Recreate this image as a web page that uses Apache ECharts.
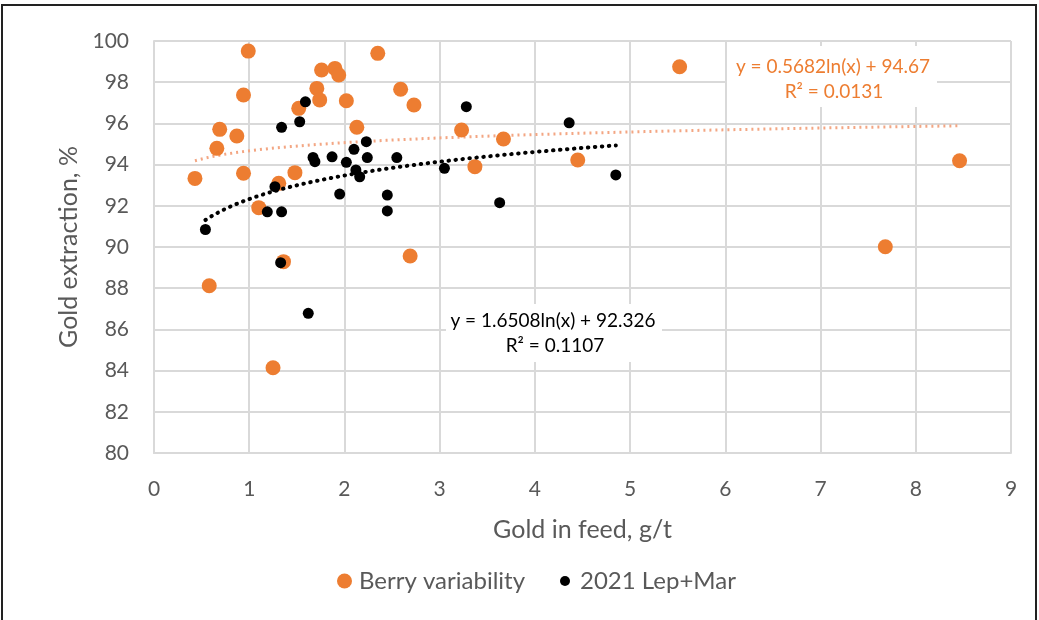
<!DOCTYPE html>
<html>
<head>
<meta charset="utf-8">
<title>Gold extraction vs gold in feed</title>
<script src="https://cdn.jsdelivr.net/npm/echarts@6/dist/echarts.min.js"></script>
<style>
	html, body { margin: 0; padding: 0; background: #fff; }
	#frame { position: absolute; left: 1px; top: 4px; width: 1036px; height: 640px; border: 2px solid #222; box-sizing: border-box; }
	#main { position: absolute; left: 0; top: 0; width: 1039px; height: 620px; }
</style>
</head>
<body>
<div id="frame"></div>
<div id="main"></div>
<script>
	// Berry variability 点 (g/t, %)
	const berryX = [0.43, 0.58, 0.66, 0.69, 0.87, 0.94, 0.94, 0.99, 1.10, 1.25, 1.31, 1.36, 1.48, 1.52, 1.71, 1.74,
		1.76, 1.90, 1.94, 2.02, 2.13, 2.35, 2.59, 2.69, 2.73, 3.23, 3.37, 3.67, 4.45, 5.52, 7.68, 8.46];
	const berryY = [93.33, 88.12, 94.79, 95.71, 95.39, 97.38, 93.58, 99.51, 91.91, 84.14, 93.09, 89.29, 93.61, 96.73, 97.70, 97.14,
		98.59, 98.67, 98.35, 97.10, 95.81, 99.40, 97.66, 89.56, 96.89, 95.68, 93.90, 95.24, 94.22, 98.75, 90.01, 94.19];

	// 2021 Lep+Mar 点
	const lepX = [0.54, 1.19, 1.27, 1.33, 1.34, 1.34, 1.53, 1.59, 1.62, 1.67, 1.69, 1.87, 1.95, 2.02, 2.10, 2.12,
		2.16, 2.23, 2.24, 2.45, 2.45, 2.55, 3.05, 3.28, 3.63, 4.36, 4.85];
	const lepY = [90.85, 91.71, 92.93, 89.24, 95.81, 91.71, 96.08, 97.05, 86.78, 94.35, 94.14, 94.38, 92.57, 94.11, 94.74, 93.74,
		93.41, 95.11, 94.34, 92.52, 91.75, 94.34, 93.82, 96.81, 92.15, 96.03, 93.50];

	// 图上标注的对数趋势线系数 y = a*ln(x) + b
	const berryTrend = { a: 0.5682, b: 94.67 };
	const lepTrend = { a: 1.6508, b: 92.326 };

	const xTicks = [0, 1, 2, 3, 4, 5, 6, 7, 8, 9];
	const yTicks = [80, 82, 84, 86, 88, 90, 92, 94, 96, 98, 100];

	const FONT = 'Lato';
	const GREY = '#595959';
	const ORANGE = '#ED7D31';
	const GRID = '#d9d9d9';

	/**
	 * 把两组数组合成 [x, y] 点
	 */
	function pairs(xs, ys) {
		return xs.map((x, i) => [x, ys[i]]);
	}

	/**
	 * 按趋势线方程在数据 x 范围内取点
	 */
	function trendPoints(t, xs) {
		let x0 = Math.min(...xs);
		let x1 = Math.max(...xs);
		let pts = [];
		let n = 80;
		for (let i = 0; i <= n; i++) {
			let x = x0 + (x1 - x0) * i / n;
			pts.push([x, t.a * Math.log(x) + t.b]);
		}
		return pts;
	}

	/**
	 * 趋势线公式文字
	 */
	function label(text, x, y, color) {
		return {
			type: 'text', x: x, y: y, z: 6,
			style: { text: text, fill: color, font: '19px ' + FONT, align: 'center', verticalAlign: 'middle' }
		};
	}

	let chart = echarts.init(document.getElementById('main'));

	chart.setOption({
		animation: false,
		backgroundColor: 'transparent',
		grid: { left: 154, top: 41, width: 857, height: 412 },
		xAxis: {
			type: 'value',
			min: xTicks[0],
			max: xTicks[xTicks.length - 1],
			interval: 1,
			name: 'Gold in feed, g/t',
			nameLocation: 'middle',
			nameGap: 64,
			nameTextStyle: { fontFamily: FONT, fontSize: 25, color: GREY },
			axisLine: { show: true, lineStyle: { color: GRID, width: 2 } },
			axisTick: { show: false },
			axisLabel: { margin: 26, fontFamily: FONT, fontSize: 21, color: GREY },
			splitLine: { show: true, lineStyle: { color: GRID, width: 2 } }
		},
		yAxis: {
			type: 'value',
			min: yTicks[0],
			max: yTicks[yTicks.length - 1],
			interval: 2,
			name: 'Gold extraction, %',
			nameLocation: 'middle',
			nameGap: 71,
			nameTextStyle: { fontFamily: FONT, fontSize: 25, color: GREY },
			axisLine: { show: true, lineStyle: { color: GRID, width: 2 } },
			axisTick: { show: false },
			axisLabel: { margin: 25, fontFamily: FONT, fontSize: 21, color: GREY },
			splitLine: { show: true, lineStyle: { color: GRID, width: 2 } }
		},
		legend: [
			{
				data: ['Berry variability'],
				left: 332, top: 564,
				icon: 'circle', itemWidth: 15, itemHeight: 15,
				textStyle: { fontFamily: FONT, fontSize: 24, color: GREY, padding: [0, 0, 0, 2] }
			},
			{
				data: ['2021 Lep+Mar'],
				left: 555, top: 564,
				icon: 'circle', itemWidth: 10, itemHeight: 10,
				textStyle: { fontFamily: FONT, fontSize: 24, color: GREY, padding: [0, 0, 0, 5] }
			}
		],
		graphic: [
			// 趋势线公式底下的白框
			{ type: 'rect', shape: { x: 727, y: 46, width: 210, height: 61 }, style: { fill: '#fff' }, z: 5 },
			{ type: 'rect', shape: { x: 446, y: 304, width: 216, height: 58 }, style: { fill: '#fff' }, z: 5 },
			label('y = 0.5682ln(x) + 94.67', 833, 67, ORANGE),
			label('R² = 0.0131', 834, 92, ORANGE),
			label('y = 1.6508ln(x) + 92.326', 553, 321, '#000'),
			label('R² = 0.1107', 555, 346, '#000')
		],
		series: [
			{
				name: 'Berry variability',
				type: 'scatter',
				symbolSize: 15,
				itemStyle: { color: ORANGE, opacity: 1 },
				data: pairs(berryX, berryY),
				z: 3
			},
			{
				name: '2021 Lep+Mar',
				type: 'scatter',
				symbolSize: 11,
				itemStyle: { color: '#000', opacity: 1 },
				data: pairs(lepX, lepY),
				z: 4
			},
			{
				name: 'berryTrend',
				type: 'line',
				showSymbol: false,
				silent: true,
				lineStyle: { color: '#F3A683', width: 3, type: [2, 4] },
				data: trendPoints(berryTrend, berryX),
				z: 2
			},
			{
				name: 'lepTrend',
				type: 'line',
				showSymbol: false,
				silent: true,
				lineStyle: { color: '#000', width: 4, type: [0.5, 6.5], cap: 'round' },
				data: trendPoints(lepTrend, lepX),
				z: 4
			}
		]
	});
</script>
</body>
</html>
